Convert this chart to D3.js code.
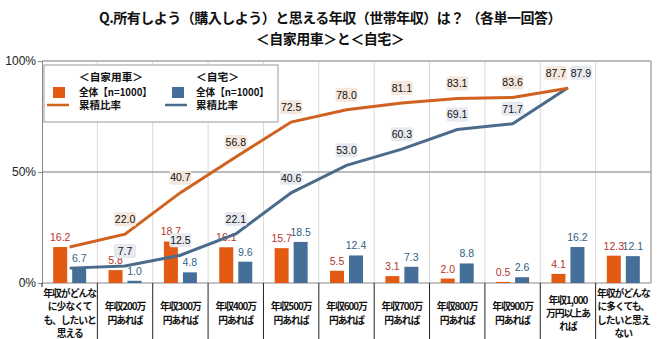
<!DOCTYPE html>
<html><head><meta charset="utf-8">
<script src="https://cdn.jsdelivr.net/npm/d3@7"></script>
<style>
body{margin:0;background:#fff;}
svg{display:block;font-family:"Liberation Sans","Noto Sans CJK JP",sans-serif;}
</style></head><body>
<svg id="c" width="660" height="339"></svg>
<script>
const categories = [
  ["年収がどんな","に少なくて","も、したいと","思える"],
  ["年収200万","円あれば"],
  ["年収300万","円あれば"],
  ["年収400万","円あれば"],
  ["年収500万","円あれば"],
  ["年収600万","円あれば"],
  ["年収700万","円あれば"],
  ["年収800万","円あれば"],
  ["年収900万","円あれば"],
  ["年収1,000","万円以上あ","れば"],
  ["年収がどんな","に多くても、","したいと思え","ない"]
];
const carBars   = [16.2, 5.8, 18.7, 16.1, 15.7, 5.5, 3.1, 2.0, 0.5, 4.1, 12.3];
const houseBars = [6.7, 1.0, 4.8, 9.6, 18.5, 12.4, 7.3, 8.8, 2.6, 16.2, 12.1];
const carCum    = [16.2, 22.0, 40.7, 56.8, 72.5, 78.0, 81.1, 83.1, 83.6, 87.7];
const houseCum  = [6.7, 7.7, 12.5, 22.1, 40.6, 53.0, 60.3, 69.1, 71.7, 87.9];
const yTicks = [0, 50, 100];
const titleLines = ["Q.所有しよう（購入しよう）と思える年収（世帯年収）は？ （各単一回答）", "＜自家用車＞と＜自宅＞"];

const C_ORANGE_BAR = "#e35a12", C_BLUE_BAR = "#456f98";
const C_ORANGE_LINE = "#d0621f", C_BLUE_LINE = "#4b6b8c";
const C_ORANGE_TXT = "#b5332b", C_BLUE_TXT = "#2f5f86";
const JP = "'Noto Sans CJK JP',sans-serif";

const svg = d3.select("#c");
const L = 42, R = 651, T = 61, B = 283;
const x = d3.scaleBand().domain(d3.range(categories.length)).range([L, R]).padding(0);
const y = d3.scaleLinear().domain([0, 100]).range([B, T]);
const bw = 14, off = 9.5;
const cx = i => x(i) + x.bandwidth() / 2;

// title
svg.selectAll("text.title").data(titleLines).join("text")
  .attr("x", 330).attr("y", (d, i) => 23 + i * 21)
  .attr("text-anchor", "middle").attr("font-size", 14).attr("font-weight", "bold")
  .attr("font-family", JP).attr("letter-spacing", -0.5)
  .attr("fill", "#111").text(d => d);

// vertical gridlines
svg.selectAll("line.vg").data(d3.range(1, categories.length)).join("line")
  .attr("x1", i => x(i)).attr("x2", i => x(i)).attr("y1", T).attr("y2", B)
  .attr("stroke", "#d9d9d9").attr("stroke-width", 1);
// right border
svg.append("line").attr("x1", R).attr("x2", R).attr("y1", T).attr("y2", B).attr("stroke", "#aaa").attr("stroke-width", 1.5);
// horizontal gridlines
svg.selectAll("line.hg").data(yTicks.filter(t => t > 0)).join("line")
  .attr("x1", L).attr("x2", R).attr("y1", d => y(d)).attr("y2", d => y(d))
  .attr("stroke", "#a6a6a6").attr("stroke-width", 1.5);

// y axis
const yAxis = d3.axisLeft(y).tickValues(yTicks).tickFormat(d => d + "%").tickSize(4);
const ya = svg.append("g").attr("transform", `translate(${L},0)`).call(yAxis);
ya.select(".domain").attr("stroke", "#888");
ya.selectAll(".tick line").attr("stroke", "#888");
ya.selectAll(".tick text").attr("font-size", 12).attr("fill", "#222").attr("x", -6)
  .attr("font-family", "'Liberation Sans',sans-serif");

// x axis line & separators
svg.append("line").attr("x1", L).attr("x2", R).attr("y1", B).attr("y2", B).attr("stroke", "#888");
svg.selectAll("line.sep").data(d3.range(0, categories.length)).join("line")
  .attr("x1", i => x(i)).attr("x2", i => x(i)).attr("y1", B)
  .attr("y2", i => i === 0 ? B + 4 : 339)
  .attr("stroke", "#222").attr("stroke-width", 1);

// category labels
const cl = svg.selectAll("text.cat").data(categories).join("text")
  .attr("text-anchor", "middle").attr("font-size", 9.8).attr("font-weight", "bold").attr("fill", "#111")
  .attr("letter-spacing", -1).attr("font-family", JP);
cl.each(function(lines, i) {
  const n = lines.length, lh = 13.2;
  const y0 = 313 - (n - 1) * lh / 2 + 4;
  d3.select(this).selectAll("tspan").data(lines).join("tspan")
    .attr("x", cx(i)).attr("y", (d, j) => y0 + j * lh).text(d => d);
});

// bars
svg.selectAll("rect.car").data(carBars).join("rect")
  .attr("x", (d, i) => cx(i) - off - bw / 2).attr("y", d => y(d))
  .attr("width", bw).attr("height", d => B - y(d)).attr("fill", C_ORANGE_BAR);
svg.selectAll("rect.house").data(houseBars).join("rect")
  .attr("x", (d, i) => cx(i) + off - bw / 2).attr("y", d => y(d))
  .attr("width", bw).attr("height", d => B - y(d)).attr("fill", C_BLUE_BAR);

// bar labels
svg.selectAll("text.cl").data(carBars).join("text")
  .attr("x", (d, i) => cx(i) - off).attr("y", d => y(d) - 6)
  .attr("text-anchor", "middle").attr("font-size", 10.5).attr("fill", C_ORANGE_TXT).text(d => d.toFixed(1));
svg.selectAll("text.hl").data(houseBars).join("text")
  .attr("x", (d, i) => cx(i) + off).attr("y", d => y(d) - 6)
  .attr("text-anchor", "middle").attr("font-size", 10.5).attr("fill", C_BLUE_TXT).text(d => d.toFixed(1));

// lines
const line = d3.line().x((d, i) => cx(i)).y(d => y(d));
svg.append("path").datum(houseCum).attr("d", line).attr("fill", "none").attr("stroke", C_BLUE_LINE).attr("stroke-width", 3);
svg.append("path").datum(carCum).attr("d", line).attr("fill", "none").attr("stroke", C_ORANGE_LINE).attr("stroke-width", 3);

// line labels (skip first, same as bar)
function cumLabels(data, bg, cls, dxLast) {
  const g = svg.selectAll("g." + cls).data(data.map((v, i) => ({v, i})).filter(d => d.i > 0)).join("g")
    .attr("transform", d => `translate(${cx(d.i) + (d.i === data.length - 1 ? dxLast : 0)},${y(d.v) - 15})`);
  g.append("rect").attr("x", -11).attr("y", -7).attr("width", 22).attr("height", 14).attr("fill", bg).attr("rx", 2);
  g.append("text").attr("text-anchor", "middle").attr("dy", "0.35em").attr("font-size", 10.5).attr("fill", "#111").text(d => d.v.toFixed(1));
}
cumLabels(carCum, "#f5e7dc", "oc", -12);
cumLabels(houseCum, "#e6eaf0", "bc", 13);

// legend
const lg = svg.append("g");
lg.append("rect").attr("x", 44).attr("y", 65).attr("width", 234).attr("height", 57).attr("fill", "#fff").attr("stroke", "#999");
const legendItems = [
  {x0: 47, title: "＜自家用車＞", bar: C_ORANGE_BAR, line: C_ORANGE_LINE, sq: 53, tx: 79, tw: 64},
  {x0: 165, title: "＜自宅＞", bar: C_BLUE_BAR, line: C_BLUE_LINE, sq: 172, tx: 196, tw: 43}
];
legendItems.forEach(it => {
  lg.append("text").attr("x", it.tx).attr("y", 80.5).attr("font-size", 10.5).attr("font-weight", "bold").attr("fill", "#111")
    .attr("font-family", JP).attr("textLength", it.tw).attr("lengthAdjust", "spacingAndGlyphs").text(it.title);
  lg.append("rect").attr("x", it.sq).attr("y", 87).attr("width", 12).attr("height", 11).attr("fill", it.bar);
  lg.append("text").attr("x", it.tx).attr("y", 95.5).attr("font-size", 10.5).attr("font-weight", "bold").attr("fill", "#111")
    .attr("font-family", JP).attr("textLength", 73).attr("lengthAdjust", "spacingAndGlyphs").text("全体【n=1000】");
  lg.append("line").attr("x1", it.x0).attr("x2", it.x0 + 22).attr("y1", 105).attr("y2", 105).attr("stroke", it.line).attr("stroke-width", 2.5);
  lg.append("text").attr("x", it.tx).attr("y", 109).attr("font-size", 10.5).attr("font-weight", "bold").attr("fill", "#111")
    .attr("font-family", JP).text("累積比率");
});
</script>
</body></html>
